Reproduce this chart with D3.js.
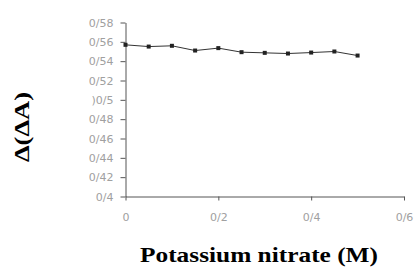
<!DOCTYPE html>
<html>
<head>
<meta charset="utf-8">
<script src="https://cdn.jsdelivr.net/npm/d3@7"></script>
<style>
  body { margin: 0; background: #fff; }
  svg { display: block; }
</style>
</head>
<body>
<svg id="chart" width="417" height="268"></svg>
<script>
// concentration of KNO3 (M) and measured Δ(ΔA)
var concentrations = [0, 0.05, 0.1, 0.15, 0.2, 0.25, 0.3, 0.35, 0.4, 0.45, 0.5];
var deltaA = [0.5569, 0.5551, 0.5559, 0.5510, 0.5535, 0.5493, 0.5486, 0.5479, 0.5489, 0.5500, 0.5458];

var yTicks = [0.4, 0.42, 0.44, 0.46, 0.48, 0.5, 0.52, 0.54, 0.56, 0.58];
var yTickLabels = ["0/4", "0/42", "0/44", "0/46", "0/48", ")0/5", "0/52", "0/54", "0/56", "0/58"];
var xTicks = [0, 0.2, 0.4, 0.6];
var xTickLabels = ["0", "0/2", "0/4", "0/6"];

var svg = d3.select("#chart");

var x = d3.scaleLinear().domain([0, 0.6]).range([125.5, 404]);
var y = d3.scaleLinear().domain([0.4, 0.58]).range([196.5, 22.5]);

// y axis
var yAxis = d3.axisLeft(y)
  .tickValues(yTicks)
  .tickSize(5)
  .tickSizeOuter(0)
  .tickPadding(7)
  .tickFormat(function(d, i) { return yTickLabels[i]; });

var gy = svg.append("g")
  .attr("transform", "translate(" + x(0) + ",0)")
  .call(yAxis);

// x axis
var xAxis = d3.axisBottom(x)
  .tickValues(xTicks)
  .tickSize(4)
  .tickSizeOuter(0)
  .tickPadding(13)
  .tickFormat(function(d, i) { return xTickLabels[i]; });

var gx = svg.append("g")
  .attr("transform", "translate(0," + y(0.4) + ")")
  .call(xAxis);

[gx, gy].forEach(function(g) {
  g.selectAll(".domain").attr("stroke", "#555").attr("stroke-width", 1);
  g.selectAll(".tick line").attr("stroke", "#555");
  g.selectAll(".tick text")
    .attr("fill", "#a0a0a0")
    .style("font-family", "'DejaVu Sans', Verdana, sans-serif")
    .style("font-size", "11px");
});

// data line
var points = concentrations.map(function(c, i) { return [c, deltaA[i]]; });

svg.append("path")
  .datum(points)
  .attr("fill", "none")
  .attr("stroke", "#333")
  .attr("stroke-width", 1)
  .attr("d", d3.line()
    .x(function(d) { return x(d[0]); })
    .y(function(d) { return y(d[1]); }));

svg.selectAll(".marker")
  .data(points)
  .enter().append("rect")
  .attr("class", "marker")
  .attr("x", function(d) { return x(d[0]) - 2; })
  .attr("y", function(d) { return y(d[1]) - 2; })
  .attr("width", 4)
  .attr("height", 4)
  .attr("fill", "#222");

// axis titles
svg.append("text")
  .attr("x", 259)
  .attr("y", 262)
  .attr("text-anchor", "middle")
  .attr("textLength", 238)
  .attr("lengthAdjust", "spacingAndGlyphs")
  .style("font-family", "'Liberation Serif', 'Times New Roman', serif")
  .style("font-weight", "bold")
  .style("font-size", "21px")
  .text("Potassium nitrate (M)");

svg.append("text")
  .attr("transform", "translate(29,127) rotate(-90)")
  .attr("text-anchor", "middle")
  .attr("textLength", 70)
  .attr("lengthAdjust", "spacingAndGlyphs")
  .style("font-family", "'Liberation Serif', 'Times New Roman', serif")
  .style("font-weight", "bold")
  .style("font-size", "21px")
  .text("Δ(ΔA)");
</script>
</body>
</html>
